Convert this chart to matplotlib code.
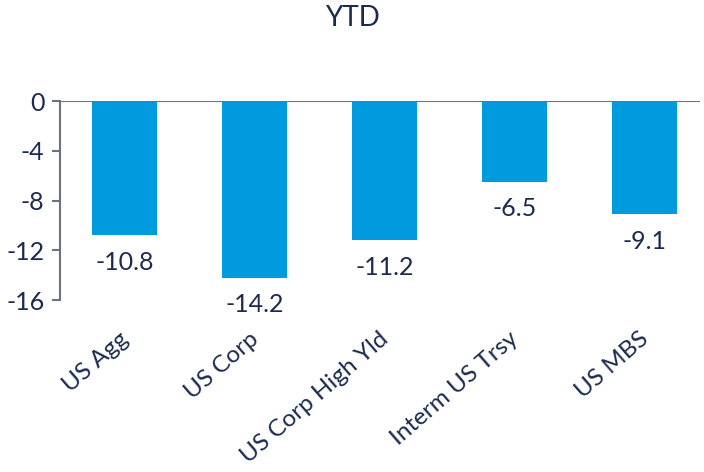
import numpy as np
import matplotlib.pyplot as plt
import matplotlib.transforms as mtransforms

plt.rcParams['font.family'] = ['Lato', 'DejaVu Sans']

categories = ['US Agg', 'US Corp', 'US Corp High Yld', 'Interm US Trsy', 'US MBS']
ytd = [-10.8, -14.2, -11.2, -6.5, -9.1]
yticks = [0, -4, -8, -12, -16]

bar_color = '#009ADE'
text_color = '#1B2A4E'
axis_color = '#6B7280'

fig = plt.figure(figsize=(7.04, 4.72), dpi=100)
ax = fig.add_axes([0.085, 0.364, 0.91, 0.422])

x = np.arange(len(categories))
ax.bar(x, ytd, width=0.5, color=bar_color, zorder=2)

for xi, v in zip(x, ytd):
    ax.annotate('%.1f' % v, (xi, v), xytext=(0, -11), textcoords='offset points',
                ha='center', va='top', fontsize=18, color=text_color)

ax.axhline(0, color=axis_color, lw=1.5, zorder=3)
ax.set_xlim(-0.5, 4.43)
ax.set_ylim(-16, 0)
ax.set_yticks(yticks)
ax.set_yticklabels([str(t) for t in yticks], fontsize=18, color=text_color)
ax.tick_params(axis='y', length=6, width=1.5, color=axis_color, pad=5)

ax.set_xticks(x)
ax.set_xticklabels(categories, rotation=41, ha='right', rotation_mode='anchor',
                   fontsize=17.5, color=text_color)
ax.tick_params(axis='x', length=0, pad=20)
shift = mtransforms.ScaledTranslation(-6 / 100, 0, fig.dpi_scale_trans)
for lbl in ax.get_xticklabels():
    lbl.set_transform(lbl.get_transform() + shift)

for s in ['top', 'right', 'bottom']:
    ax.spines[s].set_visible(False)
ax.spines['left'].set_color(axis_color)
ax.spines['left'].set_linewidth(1.5)

fig.text(0.5, 0.962, 'YTD', ha='center', va='center', fontsize=20, color=text_color)

fig.savefig('out.png', dpi=100)
